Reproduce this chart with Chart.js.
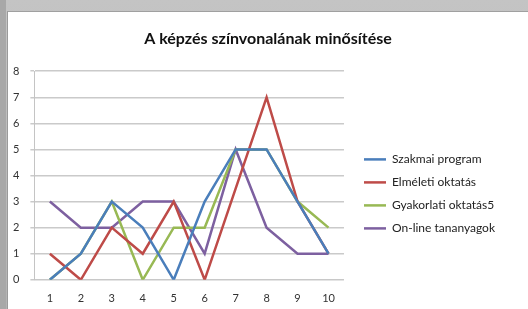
<!DOCTYPE html>
<html>
<head>
<meta charset="utf-8">
<script src="https://cdn.jsdelivr.net/npm/chart.js@4/dist/chart.umd.min.js"></script>
<style>
  html, body { margin: 0; padding: 0; }
  body {
    width: 528px; height: 309px; overflow: hidden;
    background: linear-gradient(#c4c4c4, #b4b4b4);
    position: relative;
  }
  #leftband { position: absolute; left: 0; top: 0; width: 6px; height: 309px; background: #a8a8a8; }
  #card {
    position: absolute; left: 7px; top: 11px; width: 521px; height: 298px;
    background: #fff; border-left: 1px solid #9a9a9a; border-top: 1px solid #a0a0a0;
  }
  canvas { display: block; }
</style>
</head>
<body>
<div id="leftband"></div>
<div id="card"><canvas id="chart" width="520" height="297"></canvas></div>
<script>
// category labels (1..10) and the four series
const categories = ['1', '2', '3', '4', '5', '6', '7', '8', '9', '10'];
const szakmai = [0, 1, 3, 2, 0, 3, 5, 5, 3, 1];
const elmeleti = [1, 0, 2, 1, 3, 0, 3.5, 7, 3, 1];
const gyakorlati = [0, 1, 3, 0, 2, 2, 5, 5, 3, 2];
const online = [3, 2, 2, 3, 3, 1, 5, 2, 1, 1];
const yTicks = [0, 1, 2, 3, 4, 5, 6, 7, 8];

function series(label, data, color) {
    return {
        label: label,
        data: data,
        borderColor: color,
        backgroundColor: color,
        borderWidth: 2.5,
        pointRadius: 0,
        tension: 0,
        fill: false
    };
}

// keep the title centred on the whole canvas, not just the padded area
const fullTitle = {
    id: 'fullTitle',
    afterLayout(chart) {
        chart.titleBlock.left = 0;
        chart.titleBlock.right = chart.width;
    }
};

const ctx = document.getElementById('chart').getContext('2d');

new Chart(ctx, {
    type: 'line',
    data: {
        labels: categories,
        datasets: [
            series('Szakmai program', szakmai, '#4a7ebb'),
            series('Elméleti oktatás', elmeleti, '#be4b48'),
            series('Gyakorlati oktatás5', gyakorlati, '#98b954'),
            series('On-line tananyagok', online, '#7d60a0')
        ]
    },
    plugins: [fullTitle],
    options: {
        responsive: false,
        animation: false,
        layout: { padding: { left: -6, right: 23, top: 0, bottom: 0 } },
        scales: {
            x: {
                offset: true,
                grid: { display: false },
                border: { color: '#c8c8c8', width: 1 },
                ticks: { color: '#333', font: { family: 'Lato', size: 11 }, padding: 4 }
            },
            y: {
                min: 0,
                max: 8,
                afterBuildTicks: axis => { axis.ticks = yTicks.map(v => ({ value: v })); },
                grid: { color: '#cacaca', lineWidth: 1.5, tickLength: 4 },
                border: { color: '#c4c4c4', width: 1 },
                ticks: { color: '#333', font: { family: 'Lato', size: 11 }, padding: 11 }
            },
            // empty spacer between plot and legend
            gap: {
                type: 'linear',
                position: 'right',
                grid: { display: false },
                border: { display: false },
                ticks: { display: false },
                afterFit: axis => { axis.width = 9; }
            }
        },
        plugins: {
            title: {
                display: true,
                text: 'A képzés színvonalának minősítése',
                color: '#111',
                font: { family: 'Lato', size: 16, weight: 'bold' },
                padding: { top: 17, bottom: 23 }
            },
            legend: {
                position: 'right',
                align: 'start',
                maxWidth: 200,
                title: { display: true, text: ' ', padding: { top: 116, bottom: 0 } },
                labels: {
                    usePointStyle: true,
                    pointStyle: 'line',
                    pointStyleWidth: 22,
                    boxWidth: 22,
                    padding: 11,
                    color: '#222',
                    font: { family: 'Lato', size: 12 }
                }
            },
            tooltip: { enabled: false }
        }
    }
});
</script>
</body>
</html>
